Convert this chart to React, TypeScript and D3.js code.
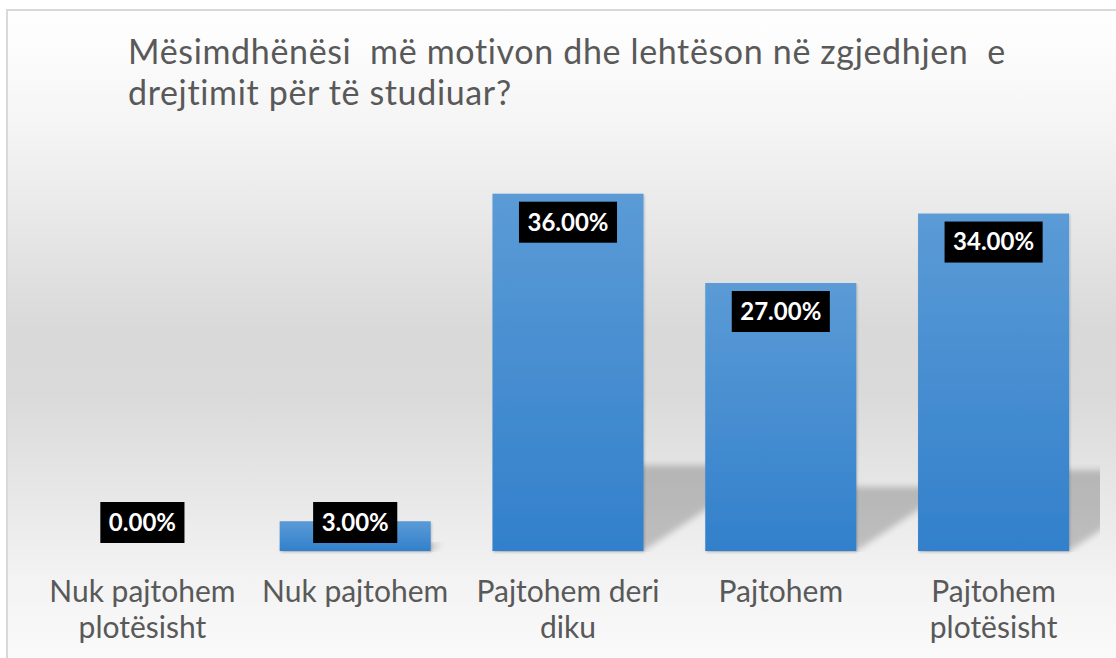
import React, { useEffect, useRef } from "react";
import * as d3 from "d3";

const categories = [
  "Nuk pajtohem plotësisht",
  "Nuk pajtohem",
  "Pajtohem deri diku",
  "Pajtohem",
  "Pajtohem plotësisht",
];
const categoryLines = [
  ["Nuk pajtohem", "plotësisht"],
  ["Nuk pajtohem"],
  ["Pajtohem deri", "diku"],
  ["Pajtohem"],
  ["Pajtohem", "plotësisht"],
];
const values = [0, 3, 36, 27, 34];
const titleLines = [
  "Mësimdhënësi  më motivon dhe lehtëson në zgjedhjen  e",
  "drejtimit për të studiuar?",
];

const W = 1116;
const H = 658;
const FONT = "Lato, 'Open Sans', sans-serif";

function App() {
  const ref = useRef<SVGSVGElement>(null);

  useEffect(() => {
    drawChart();
  }, []);

  function drawChart() {
    const svg = d3.select(ref.current);
    svg.selectAll("*").remove();

    const plot = { left: 36, right: 1100, top: 154, bottom: 551 };

    const x = d3
      .scaleBand()
      .domain(categories)
      .range([plot.left, plot.right])
      .paddingInner(0.29)
      .paddingOuter(0.145);

    const y = d3.scaleLinear().domain([0, 40]).range([plot.bottom, plot.top]);

    const defs = svg.append("defs");

    // chart background
    const bg = defs
      .append("linearGradient")
      .attr("id", "bgGrad")
      .attr("gradientUnits", "userSpaceOnUse")
      .attr("x1", 0)
      .attr("y1", 0)
      .attr("x2", 0)
      .attr("y2", H);
    [
      [0, "#ffffff"],
      [0.06, "#fdfdfd"],
      [0.2, "#f4f4f4"],
      [0.5, "#d9d9d9"],
      [0.6, "#dadada"],
      [0.76, "#e8e8e8"],
      [0.88, "#f3f3f3"],
      [1, "#fafafa"],
    ].forEach(([o, c]) => bg.append("stop").attr("offset", o).attr("stop-color", c));

    const barGrad = defs
      .append("linearGradient")
      .attr("id", "barGrad")
      .attr("x1", 0)
      .attr("y1", 0)
      .attr("x2", 0)
      .attr("y2", 1);
    barGrad.append("stop").attr("offset", 0).attr("stop-color", "#5b9bd6");
    barGrad.append("stop").attr("offset", 1).attr("stop-color", "#3280cb");

    const blur = defs.append("filter").attr("id", "shadowBlur").attr("x", "-20%").attr("y", "-20%").attr("width", "140%").attr("height", "140%");
    blur.append("feGaussianBlur").attr("stdDeviation", 3);

    const barShadow = defs.append("filter").attr("id", "barShadow").attr("x", "-10%").attr("y", "-10%").attr("width", "120%").attr("height", "130%");
    barShadow
      .append("feDropShadow")
      .attr("dx", 1)
      .attr("dy", 1.5)
      .attr("stdDeviation", 1.2)
      .attr("flood-color", "#000")
      .attr("flood-opacity", 0.18);

    defs
      .append("clipPath")
      .attr("id", "plotClip")
      .append("rect")
      .attr("x", plot.left)
      .attr("y", 0)
      .attr("width", plot.right - plot.left)
      .attr("height", plot.bottom + 1);

    svg.append("rect").attr("width", W).attr("height", H).attr("fill", "#fff");
    svg
      .append("rect")
      .attr("x", 7)
      .attr("y", 10)
      .attr("width", W + 20)
      .attr("height", H + 20)
      .attr("fill", "url(#bgGrad)")
      .attr("stroke", "#d9d9d9")
      .attr("stroke-width", 2);

    // title, two lines
    titleLines.forEach((t, i) => {
      svg
        .append("text")
        .attr("x", 128)
        .attr("y", 64 + i * 41)
        .attr("fill", "#595959")
        .style("font-family", FONT)
        .style("font-size", "34px")
        .style("letter-spacing", "0.65px")
        .style("white-space", "pre")
        .text(t);
    });

    // perspective shadows behind the bars
    const k = 1.5;
    svg
      .append("g")
      .attr("clip-path", "url(#plotClip)")
      .selectAll("path")
      .data(values)
      .enter()
      .append("path")
      .attr("d", (d, i) => {
        const x0 = x(categories[i])!;
        const x1 = x0 + x.bandwidth();
        const h = (plot.bottom - y(d)) * 0.24;
        return d3.line()([
          [x0, plot.bottom],
          [x1, plot.bottom],
          [x1 + k * h, plot.bottom - h],
          [x0 + k * h, plot.bottom - h],
        ]) + "Z";
      })
      .attr("fill", "#000")
      .attr("opacity", 0.2)
      .attr("filter", "url(#shadowBlur)");

    // bars
    svg
      .append("g")
      .selectAll("rect")
      .data(values)
      .enter()
      .filter((d) => d > 0)
      .append("rect")
      .attr("x", (d) => x(categories[values.indexOf(d)])!)
      .attr("y", (d) => y(d))
      .attr("width", x.bandwidth())
      .attr("height", (d) => plot.bottom - y(d))
      .attr("fill", "url(#barGrad)")
      .attr("filter", "url(#barShadow)");

    // value labels
    const labels = svg
      .append("g")
      .selectAll("g")
      .data(values)
      .enter()
      .append("g")
      .attr("transform", (d, i) => {
        const cx = x(categories[i])! + x.bandwidth() / 2;
        const cy = Math.min(y(d) + 28.5, plot.bottom - 28.5);
        return "translate(" + cx + "," + cy + ")";
      });
    const boxes = labels.append("rect").attr("fill", "#000");
    const texts = labels
      .append("text")
      .attr("text-anchor", "middle")
      .attr("dy", "0.35em")
      .attr("fill", "#fff")
      .style("font-family", FONT)
      .style("font-size", "24px")
      .style("font-weight", "bold")
      .text((d) => d.toFixed(2) + "%");
    texts.each(function (d, i) {
      const w = (this as SVGTextElement).getComputedTextLength() + 17;
      d3.select(boxes.nodes()[i])
        .attr("x", -w / 2)
        .attr("y", -20.5)
        .attr("width", w)
        .attr("height", 41);
    });

    // category labels
    const cats = svg
      .append("g")
      .selectAll("text")
      .data(categoryLines)
      .enter()
      .append("text")
      .attr("text-anchor", "middle")
      .attr("fill", "#595959")
      .style("font-family", FONT)
      .style("font-size", "30px");
    cats
      .selectAll("tspan")
      .data((d, i) => d.map((line) => ({ line, i })))
      .enter()
      .append("tspan")
      .attr("x", (d) => x(categories[d.i])! + x.bandwidth() / 2)
      .attr("y", (d, j) => 602 + j * 36)
      .text((d) => d.line);
  }

  return (
    <svg
      ref={ref}
      width={W}
      height={H}
      style={{ position: "absolute", left: 0, top: 0, display: "block" }}
    />
  );
}

export default App;
